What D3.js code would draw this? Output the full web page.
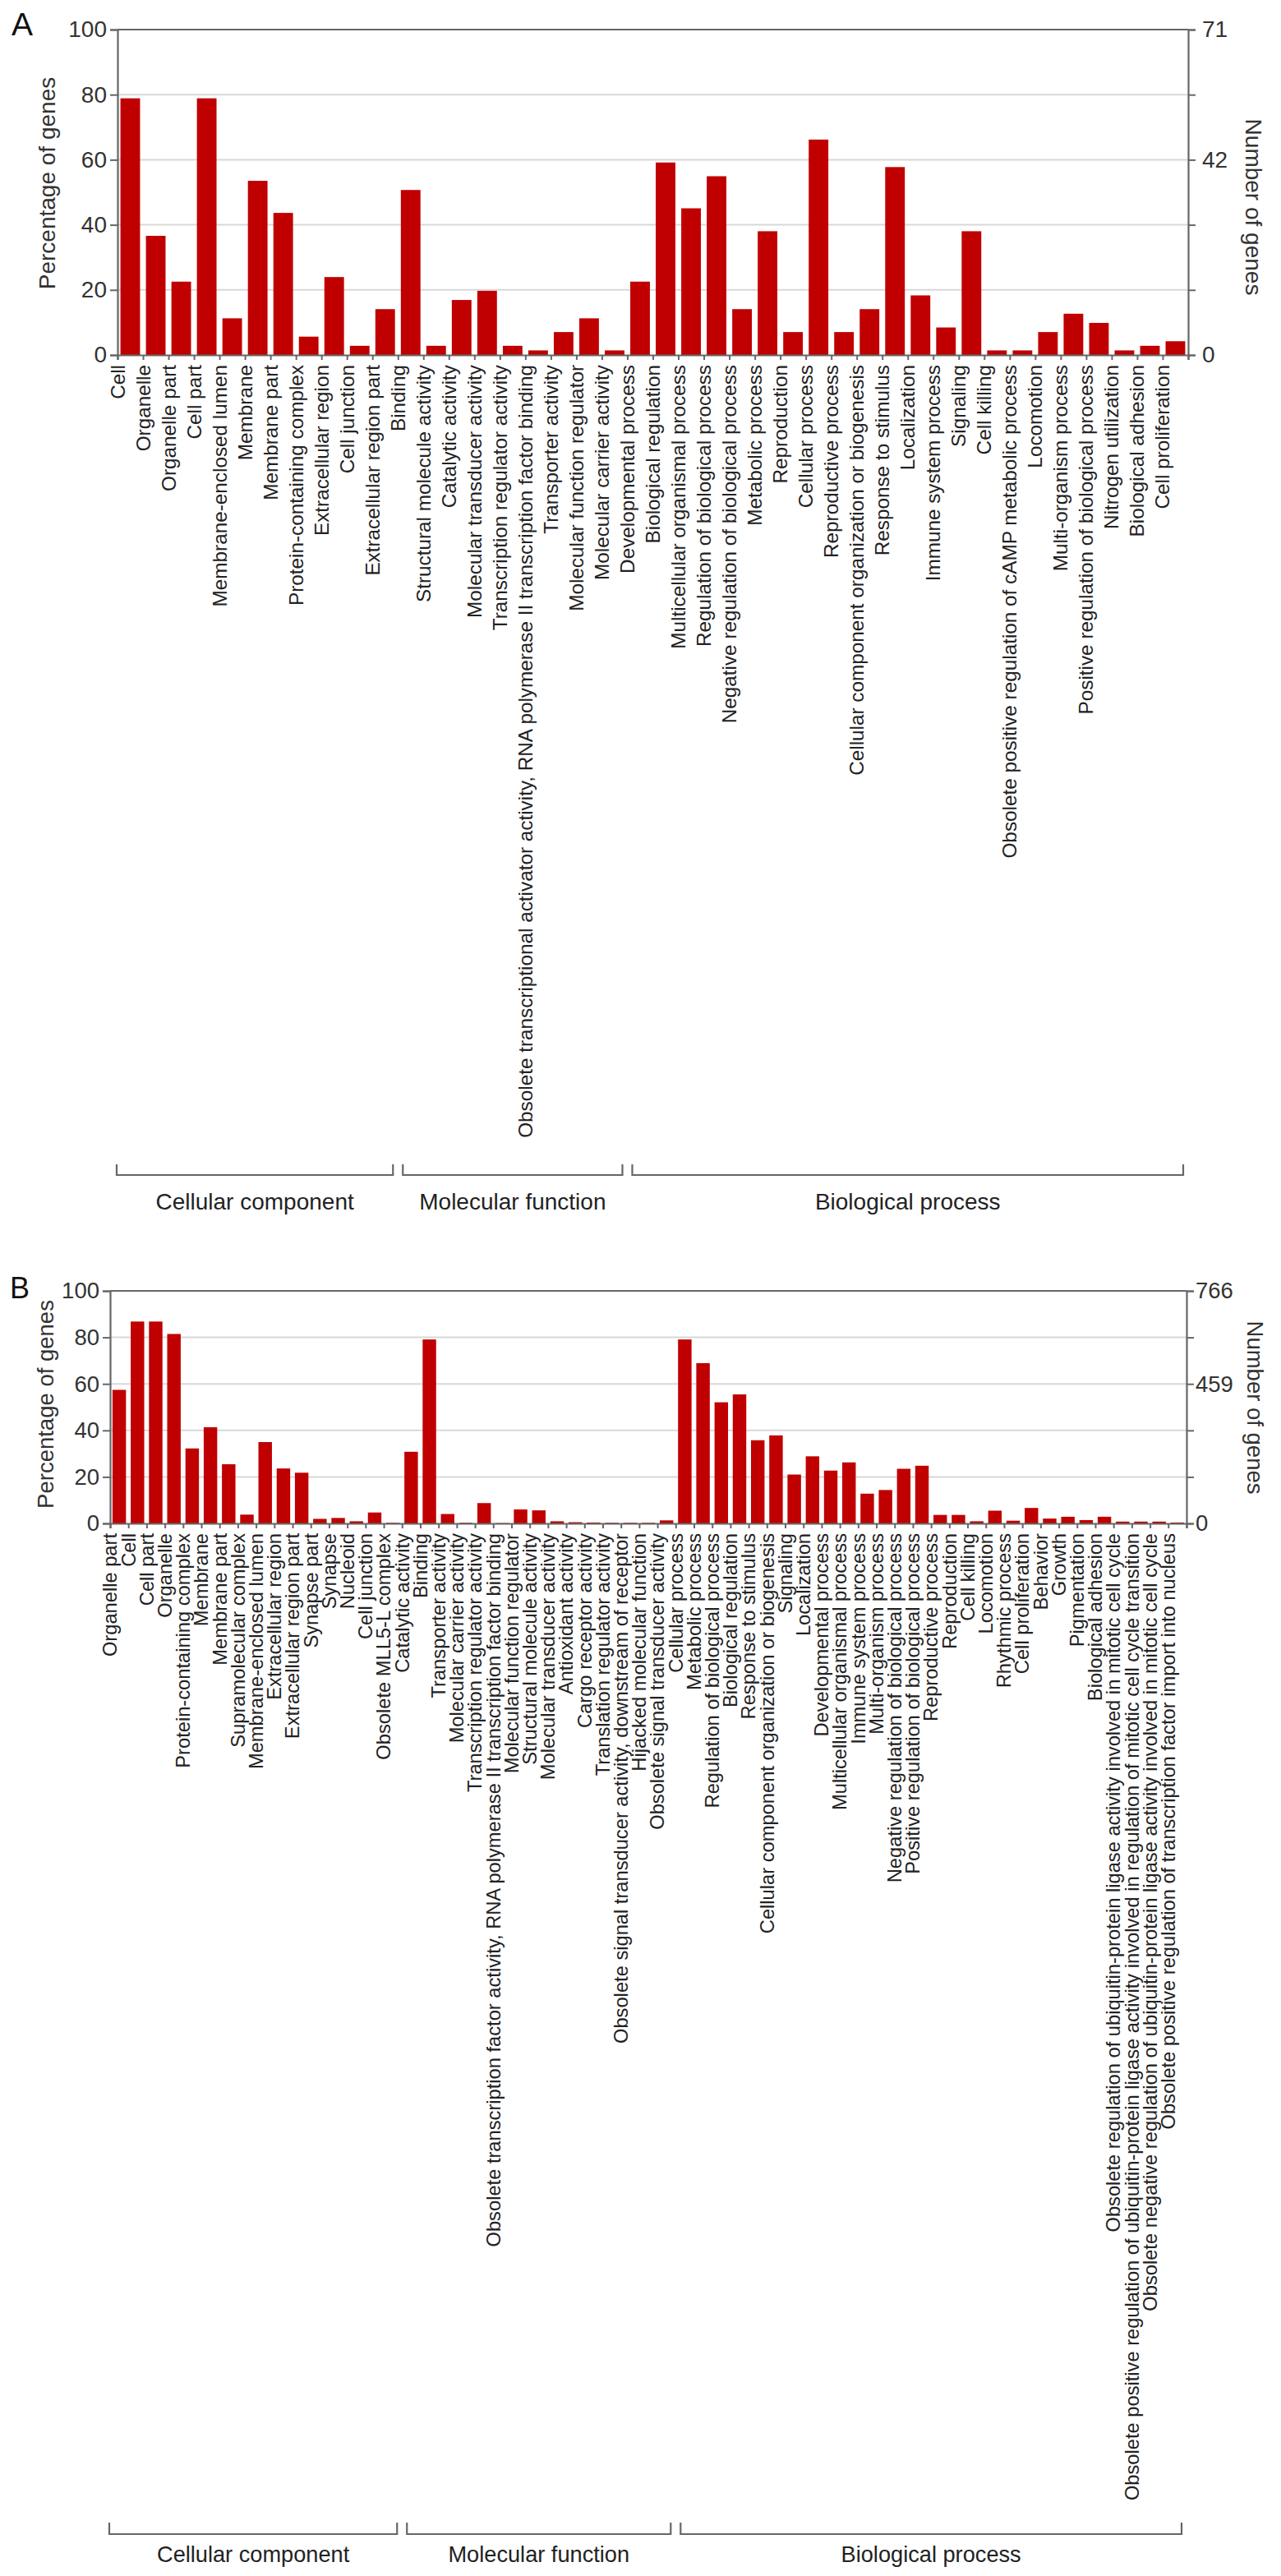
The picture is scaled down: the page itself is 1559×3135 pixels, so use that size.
<!DOCTYPE html>
<html>
<head>
<meta charset="utf-8">
<script src="https://cdn.jsdelivr.net/npm/d3@7"></script>
<style>
  html, body { margin: 0; padding: 0; background: #fff; }
  svg { display: block; }
  text { font-family: "Liberation Sans", Arial, Helvetica, sans-serif; }
</style>
</head>
<body>
<svg id="chart" width="1559" height="3135"></svg>
<script>
// ---------------- DATA ----------------
const groupNames = ["Cellular component", "Molecular function", "Biological process"];
const pctTicks = [0, 20, 40, 60, 80, 100];
const rightLabelled = [0, 60, 100];

// Panel A
const catsA = [
  "Cell", "Organelle", "Organelle part", "Cell part", "Membrane-enclosed lumen", "Membrane",
  "Membrane part", "Protein-containing complex", "Extracellular region", "Cell junction",
  "Extracellular region part",
  "Binding", "Structural molecule activity", "Catalytic activity", "Molecular transducer activity",
  "Transcription regulator activity",
  "Obsolete transcriptional activator activity, RNA polymerase II transcription factor binding",
  "Transporter activity", "Molecular function regulator", "Molecular carrier activity",
  "Developmental process", "Biological regulation", "Multicellular organismal process",
  "Regulation of biological process", "Negative regulation of biological process", "Metabolic process",
  "Reproduction", "Cellular process", "Reproductive process",
  "Cellular component organization or biogenesis", "Response to stimulus", "Localization",
  "Immune system process", "Signaling", "Cell killing",
  "Obsolete positive regulation of cAMP metabolic process", "Locomotion", "Multi-organism process",
  "Positive regulation of biological process", "Nitrogen utilization", "Biological adhesion",
  "Cell proliferation"
];
const countsA = [
  56, 26, 16, 56, 8, 38, 31, 4, 17, 2, 10,
  36, 2, 12, 14, 2, 1, 5, 8, 1,
  16, 42, 32, 39, 10, 27, 5, 47, 5, 10, 41, 13, 6, 27, 1, 1, 5, 9, 7, 1, 2, 3
];
const totalA = 71;
const groupSizesA = [11, 9, 22];

// Panel B
const catsB = [
  "Organelle part", "Cell", "Cell part", "Organelle", "Protein-containing complex", "Membrane",
  "Membrane part", "Supramolecular complex", "Membrane-enclosed lumen", "Extracellular region",
  "Extracellular region part", "Synapse part", "Synapse", "Nucleoid", "Cell junction",
  "Obsolete MLL5-L complex",
  "Catalytic activity", "Binding", "Transporter activity", "Molecular carrier activity",
  "Transcription regulator activity",
  "Obsolete transcription factor activity, RNA polymerase II transcription factor binding",
  "Molecular function regulator", "Structural molecule activity", "Molecular transducer activity",
  "Antioxidant activity", "Cargo receptor activity", "Translation regulator activity",
  "Obsolete signal transducer activity, downstream of receptor", "Hijacked molecular function",
  "Obsolete signal transducer activity",
  "Cellular process", "Metabolic process", "Regulation of biological process", "Biological regulation",
  "Response to stimulus", "Cellular component organization or biogenesis", "Signaling", "Localization",
  "Developmental process", "Multicellular organismal process", "Immune system process",
  "Multi-organism process", "Negative regulation of biological process",
  "Positive regulation of biological process", "Reproductive process", "Reproduction", "Cell killing",
  "Locomotion", "Rhythmic process", "Cell proliferation", "Behavior", "Growth", "Pigmentation",
  "Biological adhesion",
  "Obsolete regulation of ubiquitin-protein ligase activity involved in mitotic cell cycle",
  "Obsolete positive regulation of ubiquitin-protein ligase activity involved in regulation of mitotic cell cycle transition",
  "Obsolete negative regulation of ubiquitin-protein ligase activity involved in mitotic cell cycle",
  "Obsolete positive regulation of transcription factor import into nucleus"
];
const countsB = [
  440, 665, 665, 624, 247, 317, 195, 29, 268, 181, 167, 15, 18, 7, 36, 2,
  236, 606, 31, 2, 67, 1, 46, 43, 7, 4, 3, 2, 2, 2, 10,
  606, 528, 399, 425, 274, 290, 161, 221, 174, 201, 98, 110, 180, 190, 28, 28, 7, 42, 9, 51,
  16, 22, 11, 22, 6, 6, 6, 3
];
const totalB = 766;
const groupSizesB = [16, 15, 28];

// ---------------- DRAW ----------------
const svg = d3.select("#chart");
const BAR = "#c00000";
const AXIS = "#666666";
const GRID = "#d8d8d8";
const TXT = "#222222";

function drawPanel(p) {
  const g = svg.append("g");
  const n = p.cats.length;
  const data = p.cats.map((c, i) => ({ cat: c, count: p.counts[i], pct: p.counts[i] / p.total * 100 }));

  const y = d3.scaleLinear().domain([0, 100]).range([p.bottom, p.top]);
  const yR = d3.scaleLinear().domain([0, p.total]).range([p.bottom, p.top]);
  const x = d3.scaleBand().domain(p.cats).range([p.left, p.right])
    .paddingInner(p.pad).paddingOuter(p.pad / 2);
  const xi = d3.scaleLinear().domain([0, n]).range([p.left, p.right]);

  // gridlines
  g.append("g").selectAll("line").data(pctTicks.filter(t => t > 0 && t < 100)).join("line")
    .attr("x1", p.left).attr("x2", p.right)
    .attr("y1", d => y(d)).attr("y2", d => y(d))
    .attr("stroke", GRID).attr("stroke-width", 2);
  // top border
  g.append("line").attr("x1", p.left).attr("x2", p.right)
    .attr("y1", y(100)).attr("y2", y(100))
    .attr("stroke", AXIS).attr("stroke-width", 2.2);

  // bars
  g.append("g").selectAll("rect").data(data).join("rect")
    .attr("x", d => x(d.cat)).attr("width", x.bandwidth())
    .attr("y", d => y(d.pct)).attr("height", d => y(0) - y(d.pct))
    .attr("fill", BAR);

  // left axis
  const la = g.append("g").attr("transform", `translate(${p.left},0)`)
    .call(d3.axisLeft(y).tickValues(pctTicks).tickSize(9).tickPadding(4));
  // right axis
  const ra = g.append("g").attr("transform", `translate(${p.right},0)`)
    .call(d3.axisRight(yR).tickValues(pctTicks.map(t => t / 100 * p.total)).tickSize(9)
      .tickPadding(p.rPad)
      .tickFormat((v, i) => rightLabelled.includes(pctTicks[i]) ? String(Math.floor(v + 1e-9)) : ""));
  // bottom axis
  const ba = g.append("g").attr("transform", `translate(0,${p.bottom})`)
    .call(d3.axisBottom(xi).tickValues(d3.range(n + 1)).tickSize(6).tickFormat(""));

  [la, ra, ba].forEach(a => {
    a.select(".domain").attr("stroke", AXIS).attr("stroke-width", 2.2);
    a.selectAll(".tick line").attr("stroke", AXIS).attr("stroke-width", 2);
    a.selectAll(".tick text").attr("fill", "#333").attr("font-size", p.tickFont)
      .style("font-family", '"Liberation Sans", Arial, Helvetica, sans-serif');
  });

  // category labels (centred on the boundary tick left of each bar)
  g.append("g").selectAll("text").data(data).join("text")
    .attr("transform", (d, i) => `translate(${xi(i)},${p.bottom + 12}) rotate(-90)`)
    .attr("dy", "0.35em").attr("text-anchor", "end")
    .attr("font-size", p.labelFont).attr("fill", TXT)
    .text(d => d.cat);

  // axis titles
  g.append("text").attr("transform", `translate(${p.ltX},${p.ltY}) rotate(-90)`)
    .attr("dy", "0.35em").attr("text-anchor", "middle")
    .attr("font-size", p.titleFont).attr("fill", "#333").text("Percentage of genes");
  g.append("text").attr("transform", `translate(${p.rtX},${p.rtY}) rotate(90)`)
    .attr("dy", "0.35em").attr("text-anchor", "middle")
    .attr("font-size", p.titleFont).attr("fill", "#333").text("Number of genes");

  // panel letter
  g.append("text").attr("x", p.letterX).attr("y", p.letterY)
    .attr("font-size", p.letterFont).attr("fill", "#111").text(p.letter);

  // group brackets
  let start = 0;
  p.groupSizes.forEach((sz, gi) => {
    const end = start + sz;
    const x0 = xi(start) + (start > 0 ? 6 : -1);
    const x1 = xi(end) - 6;
    g.append("path")
      .attr("d", `M${x0},${p.brTop}V${p.brBot}H${x1}V${p.brTop}`)
      .attr("fill", "none").attr("stroke", AXIS).attr("stroke-width", 2.2);
    g.append("text").attr("x", (x0 + x1) / 2).attr("y", p.grpY)
      .attr("dy", "0.35em").attr("text-anchor", "middle")
      .attr("font-size", p.grpFont).attr("fill", TXT).text(groupNames[gi]);
    start = end;
  });
}

drawPanel({
  letter: "A", cats: catsA, counts: countsA, total: totalA, groupSizes: groupSizesA,
  left: 143, right: 1446, top: 36, bottom: 432, pad: 0.23, rPad: 8,
  labelFont: 24.3, tickFont: 28, titleFont: 28, grpFont: 28,
  ltX: 57, ltY: 223, rtX: 1526, rtY: 252,
  letterX: 14, letterY: 43, letterFont: 39,
  brTop: 1417, brBot: 1430, grpY: 1462
});

drawPanel({
  letter: "B", cats: catsB, counts: countsB, total: totalB, groupSizes: groupSizesB,
  left: 134, right: 1444, top: 1571, bottom: 1854, pad: 0.26, rPad: 2,
  labelFont: 23.7, tickFont: 27.5, titleFont: 27.5, grpFont: 27.2,
  ltX: 55, ltY: 1709, rtX: 1528, rtY: 1713,
  letterX: 12, letterY: 1580, letterFont: 36,
  brTop: 3070, brBot: 3084, grpY: 3108
});
</script>
</body>
</html>
